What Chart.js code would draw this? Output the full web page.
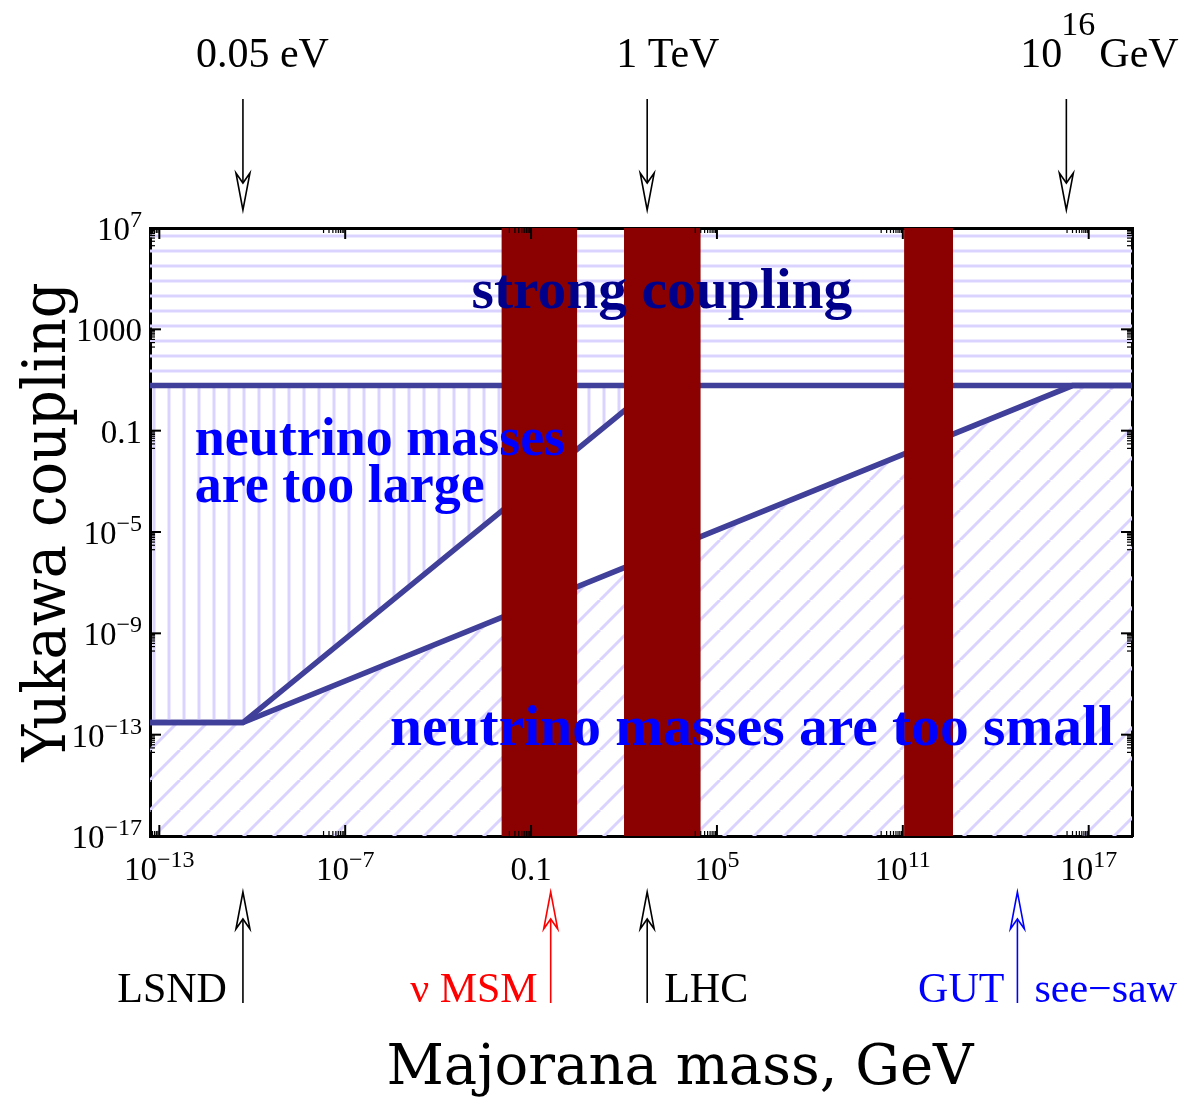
<!DOCTYPE html>
<html>
<head>
<meta charset="utf-8">
<title>Yukawa coupling vs Majorana mass</title>
<script src="https://cdn.jsdelivr.net/npm/chart.js@4.4.1/dist/chart.umd.min.js"></script>
<style>
  html, body { margin: 0; padding: 0; background: #fff; }
  #wrap { width: 1186px; height: 1099px; }
</style>
</head>
<body>
<div id="wrap"><canvas id="chart" width="1186" height="1099"></canvas></div>
<script>
// axis ranges
var xRange = [5e-14, 2.5e18];
var yRange = [1e-17, 1e7];

// tick values and labels ("base^exponent")
var xTickValues = [1e-13, 1e-7, 1e-1, 1e5, 1e11, 1e17];
var xTickLabels = ['10^\u221213', '10^\u22127', '0.1', '10^5', '10^11', '10^17'];
var yTickValues = [1e7, 1e3, 1e-1, 1e-5, 1e-9, 1e-13, 1e-17];
var yTickLabels = ['10^7', '1000', '0.1', '10^\u22125', '10^\u22129', '10^\u221213', '10^\u221217'];

// strong coupling boundary
var strongX = [5e-14, 2.5e18];
var strongY = [6, 6];
// "too large" region lower edge (flat part + steep line)
var largeX = [5e-14, 5e-11, 1e3];
var largeY = [3e-13, 3e-13, 6];
// "too small" region upper edge (flat part + see-saw line)
var smallX = [5e-14, 5e-11, 3e16, 2.5e18];
var smallY = [3e-13, 3e-13, 6, 6];

// dark red mass windows
var bandFrom = [1.1e-2, 1e2, 1.1e11];
var bandTo = [3.1, 3e4, 4.2e12];

// arrows above / below the frame
var topMarkX = [5e-11, 5.6e2, 1.9e16];
var bottomMarkX = [5e-11, 0.43, 5.6e2, 5e14];

// region captions, anchored at left end of baseline
var regionText = ['strong coupling', 'neutrino masses', 'are too large', 'neutrino masses are too small'];
var regionTextX = [1.2e-3, 1.4e-12, 1.4e-12, 2.8e-6];
var regionTextY = [7e3, 1.1e-2, 1.5e-4, 3.9e-14];

var lineColor = '#403f99';
var hatchColor = '#dad3ff';
var bandColor = '#8b0000';
var serif = '"Liberation Serif", "Times New Roman", serif';

function makeHatch(kind) {
  var c = document.createElement('canvas');
  var s = kind === 'd' ? 30 : 15;
  c.width = s;
  c.height = s;
  var g = c.getContext('2d');
  g.strokeStyle = hatchColor;
  g.lineWidth = 3;
  g.beginPath();
  if (kind === 'h') {
    g.moveTo(0, 11); g.lineTo(s, 11);
  } else if (kind === 'v') {
    g.moveTo(4, 0); g.lineTo(4, s);
  } else {
    [-s, 0, s].forEach(function(o) { g.moveTo(o, s); g.lineTo(o + s, 0); });
  }
  g.stroke();
  return g.createPattern(c, 'repeat');
}

function toPoints(xs, ys) {
  return xs.map(function(x, i) { return { x: x, y: ys[i] }; });
}

function drawTick(ctx, x1, y1, x2, y2, w) {
  ctx.lineWidth = w;
  ctx.beginPath();
  ctx.moveTo(x1, y1);
  ctx.lineTo(x2, y2);
  ctx.stroke();
}

function drawInnerTicks(chart) {
  var ctx = chart.ctx, a = chart.chartArea;
  var xs = chart.scales.x, ys = chart.scales.y;
  ctx.save();
  ctx.strokeStyle = '#000';
  xTickValues.forEach(function(v) {
    var p = xs.getPixelForValue(v);
    drawTick(ctx, p, a.bottom, p, a.bottom - 11, 2);
    drawTick(ctx, p, a.top, p, a.top + 11, 2);
    for (var k = 2; k <= 9; k++) {
      var m = v / 10 * k;
      if (m < xRange[0]) continue;
      var mp = xs.getPixelForValue(m);
      drawTick(ctx, mp, a.bottom, mp, a.bottom - 5, 1.2);
      drawTick(ctx, mp, a.top, mp, a.top + 5, 1.2);
    }
  });
  yTickValues.forEach(function(v) {
    var p = ys.getPixelForValue(v);
    drawTick(ctx, a.left, p, a.left + 11, p, 2);
    drawTick(ctx, a.right, p, a.right - 11, p, 2);
    for (var k = 2; k <= 9; k++) {
      var m = v / 10 * k;
      if (m < yRange[0]) continue;
      var mp = ys.getPixelForValue(m);
      drawTick(ctx, a.left, mp, a.left + 5, mp, 1.2);
      drawTick(ctx, a.right, mp, a.right - 5, mp, 1.2);
    }
  });
  ctx.restore();
}

// draws "10^-13" style label with a raised exponent; anchor is 'center' or 'right'
function drawPowerLabel(ctx, text, x, baseline, anchor) {
  var parts = text.split('^');
  ctx.font = '33px ' + serif;
  var wb = ctx.measureText(parts[0]).width;
  var we = 0;
  if (parts[1]) {
    ctx.font = '24px ' + serif;
    we = ctx.measureText(parts[1]).width;
  }
  var total = wb + we;
  var start = anchor === 'right' ? x - total : x - total / 2;
  ctx.font = '33px ' + serif;
  ctx.fillText(parts[0], start, baseline);
  if (parts[1]) {
    ctx.font = '24px ' + serif;
    ctx.fillText(parts[1], start + wb, baseline - 13);
  }
}

function drawTickLabels(chart) {
  var ctx = chart.ctx, a = chart.chartArea;
  var xs = chart.scales.x, ys = chart.scales.y;
  ctx.save();
  ctx.fillStyle = '#000';
  ctx.textAlign = 'left';
  ctx.textBaseline = 'alphabetic';
  xs.ticks.forEach(function(t, i) {
    drawPowerLabel(ctx, xTickLabels[i], xs.getPixelForValue(t.value), a.bottom + 44, 'center');
  });
  ys.ticks.forEach(function(t, i) {
    drawPowerLabel(ctx, yTickLabels[i], a.left - 8, ys.getPixelForValue(t.value) + 12, 'right');
  });
  ctx.restore();
}

function drawRegionText(chart) {
  var ctx = chart.ctx;
  var xs = chart.scales.x, ys = chart.scales.y;
  var colors = ['#00008b', '#0000ff', '#0000ff', '#0000ff'];
  var sizes = [57.5, 54, 54, 57.5];
  ctx.save();
  ctx.textAlign = 'left';
  ctx.textBaseline = 'alphabetic';
  regionText.forEach(function(t, i) {
    ctx.font = 'bold ' + sizes[i] + 'px ' + serif;
    ctx.fillStyle = colors[i];
    ctx.fillText(t, xs.getPixelForValue(regionTextX[i]), ys.getPixelForValue(regionTextY[i]));
  });
  ctx.restore();
}

function drawArrow(ctx, x, tailY, tipY, color) {
  var dir = tipY > tailY ? 1 : -1;
  ctx.strokeStyle = color;
  ctx.lineWidth = 1.6;
  ctx.beginPath();
  ctx.moveTo(x, tailY);
  ctx.lineTo(x, tipY - dir * 27);
  ctx.stroke();
  ctx.beginPath();
  ctx.moveTo(x, tipY);
  ctx.lineTo(x - 7, tipY - dir * 37);
  ctx.lineTo(x, tipY - dir * 27);
  ctx.lineTo(x + 7, tipY - dir * 37);
  ctx.closePath();
  ctx.fillStyle = '#fff';
  ctx.fill();
  ctx.stroke();
}

function drawMarks(chart) {
  var ctx = chart.ctx;
  var xs = chart.scales.x;
  ctx.save();
  ctx.textBaseline = 'alphabetic';
  ctx.textAlign = 'left';

  var t = topMarkX.map(function(v) { return xs.getPixelForValue(v); });
  t.forEach(function(px) { drawArrow(ctx, px, 99, 210, '#000'); });
  ctx.fillStyle = '#000';
  ctx.font = '42px ' + serif;
  ctx.fillText('0.05 eV', t[0] - 47, 67);
  ctx.fillText('1 TeV', t[1] - 31, 67);
  ctx.fillText('10', t[2] - 46, 67);
  ctx.fillText('GeV', t[2] + 33, 67);
  ctx.font = '34px ' + serif;
  ctx.fillText('16', t[2] - 5, 35);

  var b = bottomMarkX.map(function(v) { return xs.getPixelForValue(v); });
  var colors = ['#000', '#ff0000', '#000', '#0000ff'];
  b.forEach(function(px, i) { drawArrow(ctx, px, 1003, 892, colors[i]); });
  ctx.font = '42px ' + serif;
  ctx.textAlign = 'right';
  ctx.fillStyle = '#000';
  ctx.fillText('LSND', b[0] - 16, 1002);
  ctx.fillStyle = '#ff0000';
  ctx.fillText('ν MSM', b[1] - 13, 1002);
  ctx.fillStyle = '#0000ff';
  ctx.fillText('GUT', b[3] - 13, 1002);
  ctx.textAlign = 'left';
  ctx.fillStyle = '#000';
  ctx.fillText('LHC', b[2] + 17, 1002);
  ctx.fillStyle = '#0000ff';
  ctx.fillText('see\u2212saw', b[3] + 17, 1002);
  ctx.restore();
}

function drawTitles(chart) {
  var ctx = chart.ctx;
  ctx.save();
  ctx.fillStyle = '#000';
  ctx.font = '56px "DejaVu Serif", serif';
  ctx.textAlign = 'center';
  ctx.textBaseline = 'alphabetic';
  ctx.fillText('Majorana mass, GeV', 680, 1084);
  ctx.translate(65, 522);
  ctx.rotate(-Math.PI / 2);
  ctx.scale(1, 1.08);
  ctx.fillText('Yukawa coupling', 0, 0);
  ctx.restore();
}

var overlay = {
  id: 'overlay',
  afterDatasetsDraw: function(chart) {
    drawInnerTicks(chart);
    drawRegionText(chart);
  },
  afterDraw: function(chart) {
    drawTickLabels(chart);
    drawMarks(chart);
    drawTitles(chart);
  }
};

function buildDatasets() {
  var sets = [];
  for (var i = 0; i < bandFrom.length; i++) {
    sets.push({
      data: [{ x: bandFrom[i], y: yRange[1] }, { x: bandTo[i], y: yRange[1] }],
      borderWidth: 0,
      backgroundColor: bandColor,
      fill: 'start',
      order: 0
    });
  }
  sets.push({
    data: toPoints(strongX, strongY),
    borderColor: lineColor,
    borderWidth: 5.5,
    backgroundColor: makeHatch('h'),
    fill: 'end',
    order: 1
  });
  sets.push({
    data: toPoints(largeX, largeY),
    borderColor: lineColor,
    borderWidth: 5.5,
    backgroundColor: makeHatch('v'),
    fill: { value: strongY[0] },
    order: 2
  });
  sets.push({
    data: toPoints(smallX, smallY),
    borderColor: lineColor,
    borderWidth: 5.5,
    backgroundColor: makeHatch('d'),
    fill: 'start',
    order: 3
  });
  return sets;
}

function logAxis(position, range, values, labels, size) {
  var horizontal = position === 'top' || position === 'bottom';
  return {
    type: 'logarithmic',
    position: position,
    min: range[0],
    max: range[1],
    afterBuildTicks: function(scale) {
      scale.ticks = values.map(function(v) { return { value: v }; });
    },
    ticks: {
      display: false,
      autoSkip: false,
      callback: function(value, index) { return labels[index].replace('^', ''); }
    },
    grid: { display: false, drawTicks: false },
    border: { display: true, color: '#000', width: 3 },
    afterFit: function(scale) {
      if (horizontal) scale.height = size;
      else scale.width = size;
    }
  };
}

var chart = new Chart(document.getElementById('chart'), {
  type: 'line',
  data: { datasets: buildDatasets() },
  options: {
    responsive: false,
    animation: false,
    events: [],
    layout: { padding: 0 },
    elements: { point: { radius: 0 }, line: { tension: 0 } },
    plugins: { legend: { display: false }, tooltip: { enabled: false } },
    scales: {
      x: logAxis('bottom', xRange, xTickValues, xTickLabels, 263),
      x2: logAxis('top', xRange, xTickValues, xTickLabels, 228),
      y: logAxis('left', yRange, yTickValues, yTickLabels, 150),
      y2: logAxis('right', yRange, yTickValues, yTickLabels, 54)
    }
  },
  plugins: [overlay]
});
</script>
</body>
</html>
